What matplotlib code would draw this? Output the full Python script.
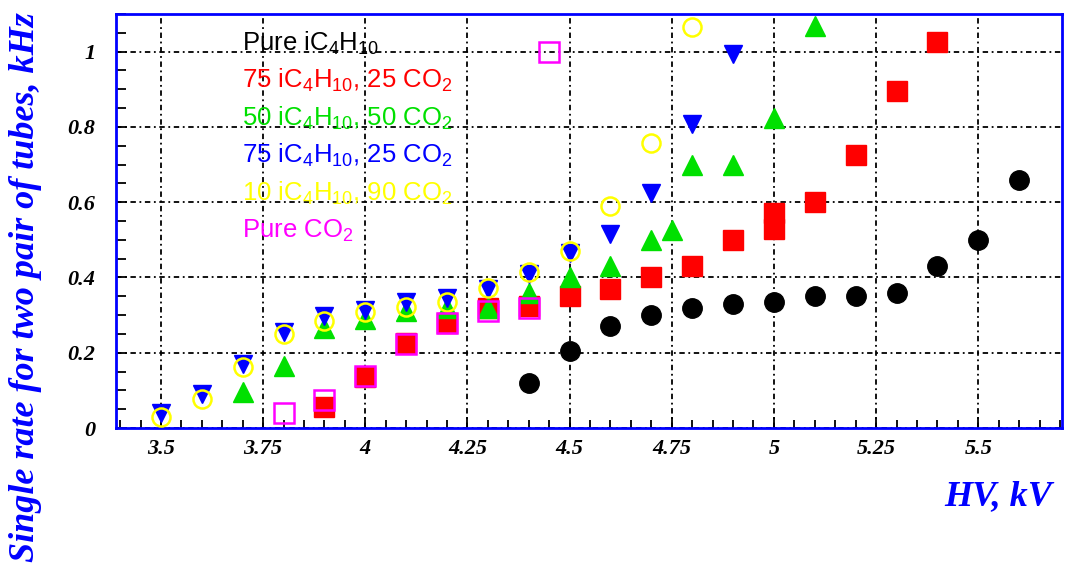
import matplotlib
matplotlib.use('Agg')
from matplotlib import pyplot as plt
from matplotlib.ticker import FixedLocator, MultipleLocator

# HV in kV, single rate in kHz
hv_pure_ic4h10 = [4.4, 4.5, 4.6, 4.7, 4.8, 4.9, 5.0, 5.1, 5.2, 5.3, 5.4, 5.5, 5.6]
rate_pure_ic4h10 = [0.12, 0.205, 0.27, 0.30, 0.32, 0.33, 0.335, 0.35, 0.35, 0.36, 0.43, 0.50, 0.66]

hv_75_25 = [3.9, 4.0, 4.1, 4.2, 4.3, 4.4, 4.5, 4.6, 4.7, 4.8, 4.9, 5.0, 5.0, 5.1, 5.2, 5.3, 5.4]
rate_75_25 = [0.055, 0.135, 0.225, 0.28, 0.32, 0.325, 0.35, 0.37, 0.40, 0.43, 0.50, 0.53, 0.57,
              0.60, 0.725, 0.895, 1.025]

hv_50_50 = [3.7, 3.8, 3.9, 4.0, 4.1, 4.2, 4.3, 4.4, 4.5, 4.6, 4.7, 4.75, 4.8, 4.9, 5.0, 5.1]
rate_50_50 = [0.095, 0.165, 0.265, 0.29, 0.31, 0.32, 0.32, 0.36, 0.40, 0.43, 0.50, 0.525, 0.70,
              0.70, 0.825, 1.067]

hv_75_25b = [3.5, 3.6, 3.7, 3.8, 3.9, 4.0, 4.1, 4.2, 4.3, 4.4, 4.5, 4.6, 4.7, 4.8, 4.9]
rate_75_25b = [0.04, 0.09, 0.17, 0.255, 0.298, 0.313, 0.335, 0.345, 0.368, 0.408, 0.465, 0.515,
               0.625, 0.808, 0.993]

hv_10_90 = [3.5, 3.6, 3.7, 3.8, 3.9, 4.0, 4.1, 4.2, 4.3, 4.4, 4.5, 4.6, 4.7, 4.8]
rate_10_90 = [0.03, 0.078, 0.163, 0.25, 0.285, 0.308, 0.322, 0.335, 0.372, 0.415, 0.47, 0.59,
              0.757, 1.065]

hv_pure_co2 = [3.8, 3.9, 4.0, 4.1, 4.2, 4.3, 4.4, 4.45]
rate_pure_co2 = [0.04, 0.075, 0.138, 0.223, 0.278, 0.31, 0.32, 1.0]

legend_labels = ['Pure iC$_4$H$_{10}$',
                 '75 iC$_4$H$_{10}$, 25 CO$_2$',
                 '50 iC$_4$H$_{10}$, 50 CO$_2$',
                 '75 iC$_4$H$_{10}$, 25 CO$_2$',
                 '10 iC$_4$H$_{10}$, 90 CO$_2$',
                 'Pure CO$_2$']
legend_colors = ['black', 'red', '#00e000', 'blue', '#ffff00', '#ff00ff']

x_ticks = [3.5, 3.75, 4.0, 4.25, 4.5, 4.75, 5.0, 5.25, 5.5]
x_tick_labels = ['3.5', '3.75', '4', '4.25', '4.5', '4.75', '5', '5.25', '5.5']
y_ticks = [0, 0.2, 0.4, 0.6, 0.8, 1.0]
y_tick_labels = ['0', '0.2', '0.4', '0.6', '0.8', '1']

# subscripts in the legend should use the same sans font
plt.rcParams['mathtext.fontset'] = 'custom'
plt.rcParams['mathtext.rm'] = 'Liberation Sans'
plt.rcParams['mathtext.it'] = 'Liberation Sans:italic'
plt.rcParams['mathtext.bf'] = 'Liberation Sans:bold'

fig = plt.figure(figsize=(10.66, 5.65), dpi=100)
ax = fig.add_axes([116 / 1066, 1 - 428 / 565, (1062 - 116) / 1066, (428 - 14) / 565])

# markers, in ROOT drawing order
ax.plot(hv_pure_ic4h10, rate_pure_ic4h10, 'o', color='black', ms=14, zorder=3)
ax.plot(hv_75_25, rate_75_25, 's', color='red', ms=14, zorder=3)
ax.plot(hv_50_50, rate_50_50, '^', color='#00e000', ms=14, zorder=3)
ax.plot(hv_75_25b, rate_75_25b, 'v', color='blue', ms=13, zorder=3)
ax.plot(hv_10_90, rate_10_90, 'o', mfc='none', mec='#ffff00', mew=1.8, ms=13, zorder=3)
ax.plot(hv_pure_co2, rate_pure_co2, 's', mfc='none', mec='#ff00ff', mew=1.8, ms=14, zorder=3)

ax.set_xlim(3.39, 5.705)
ax.set_ylim(0, 1.1)

# ticks
tick_font = dict(family='Liberation Serif', weight='bold', style='italic', size=16)
ax.xaxis.set_major_locator(FixedLocator(x_ticks))
ax.xaxis.set_minor_locator(MultipleLocator(0.05))
ax.yaxis.set_major_locator(FixedLocator(y_ticks))
ax.yaxis.set_minor_locator(MultipleLocator(0.05))
ax.set_xticklabels(x_tick_labels, fontdict=tick_font)
ax.set_yticklabels(y_tick_labels, fontdict=tick_font)
ax.tick_params(which='both', direction='in', color='black', width=1.3)
ax.tick_params(axis='x', which='major', length=8, pad=8)
ax.tick_params(axis='x', which='minor', length=6)
ax.tick_params(axis='y', which='major', length=8, pad=15)
ax.tick_params(axis='y', which='minor', length=7)

# grid
ax.grid(which='major', color='black', linestyle=(0, (3, 2, 1, 2)), linewidth=1.3)
ax.set_axisbelow(True)

for spine in ax.spines.values():
    spine.set_color('blue')
    spine.set_linewidth(2)

# legend as coloured text (no markers)
for i, (label, col) in enumerate(zip(legend_labels, legend_colors)):
    fig.text(242 / 1066, 1 - (43 + i * 37.5) / 565, label, color=col, family='Liberation Sans',
             size=18.5, ha='left', va='center')

# axis titles
title_font = dict(family='Liberation Serif', weight='bold', style='italic', color='blue', size=26)
fig.text(26 / 1066, 0.006, 'Single rate for two pair of tubes, kHz', rotation=90,
         ha='center', va='bottom', **title_font)
fig.text(1052 / 1066, 1 - 505 / 565, 'HV, kV', ha='right', va='baseline', **title_font)

plt.savefig('out.png', dpi=100)
